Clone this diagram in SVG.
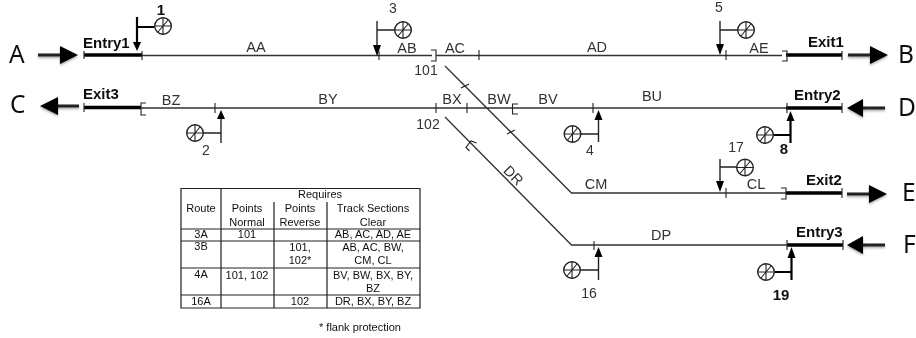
<svg xmlns="http://www.w3.org/2000/svg" width="916" height="338" viewBox="0 0 916 338">
<style>
svg > g{filter:url(#blurall)}
text{font-family:"Liberation Sans",Arial,sans-serif;fill:#333}
.lbl{font-size:14.500px;text-anchor:middle}
.num{font-size:14px;text-anchor:middle}
.bn{font-size:15px;font-weight:bold;text-anchor:middle;fill:#111}
.en{font-size:15px;font-weight:bold;fill:#111}
.big{font-family:"Noto Sans",sans-serif;font-size:24.500px;fill:#111}
.t{font-size:11px;text-anchor:middle;fill:#111}
.trk{stroke:#333;stroke-width:1.3;fill:none}
.thick{stroke:#000;stroke-width:3.4;fill:none}
.tick{stroke:#222;stroke-width:1.1;fill:none}
.sig{stroke:#222;stroke-width:1.4;fill:none}
.sigb{stroke:#000;stroke-width:2.2;fill:none}
.grid{stroke:#222;stroke-width:1.2;fill:none}
.ar{stroke:#222;stroke-width:3;fill:none}
</style>
<defs>
<g id="lamp"><circle r="8.3" fill="#fff" stroke="#222" stroke-width="1.4"/><path d="M-8.3 0H8.3M0-8.3V8.3M-5 6L5-6" fill="none" stroke="#222" stroke-width="1.1"/></g>
<filter id="blurall" filterUnits="userSpaceOnUse" x="0" y="0" width="916" height="338"><feGaussianBlur stdDeviation="0.4"/></filter>
<filter id="soft" x="-20%" y="-60%" width="140%" height="220%"><feDropShadow dx="0" dy="1.5" stdDeviation="1.2" flood-color="#000" flood-opacity="0.35"/></filter>
</defs>

<g id="connectors">
<path class="trk" d="M142 55.500H432M436 55.500H782M141 108H786M445 66L571.500 193H786M445 117L571.500 245H787"/>
<path class="thick" d="M84 55H142M84 107.500H141M786 55H842M786 108H842M786 193H842M787 245H843"/>
<path class="tick" d="M84 51V59M142 51V60M379 51V60M479 50V60M726 50V60M842 51V60M84 103V112M215 103V113M436 103V113M467 103V113M593 103V113M787 103V113M842 103V113M726 188V198M842 188V198M594 241V250M787 240V250M843 240V250M461 88L469 84M507 134L515 130"/>
<path class="tick" d="M431 50H436V61H431M146 103H141V115H146M518 104H512.500V114H518M782 51H787V61H782M781 188H786V199H781M476.500 143L471 141L466 147.500L469.500 151"/>
<path class="ar" d="M38 55H62M848 55H872M79 106H55M885 108H861M847 194H871M885 245H861" filter="url(#soft)"/>
<path d="M60 46L78 55L60 64ZM870 46L888 55L870 64ZM58 97L40 106L58 115ZM863 99L847 108L863 117ZM869 185L887 194L869 203ZM863 236L847 245L863 254Z" fill="#000" filter="url(#soft)"/>
</g>

<g id="entry-exit-labels">
<text class="en" x="83" y="48">Entry1</text>
<text class="en" x="83" y="99">Exit3</text>
<text class="en" x="808" y="47">Exit1</text>
<text class="en" x="794" y="100">Entry2</text>
<text class="en" x="806" y="185">Exit2</text>
<text class="en" x="796" y="237">Entry3</text>
</g>
<g id="letters">
<text class="big" x="9" y="63">A</text>
<text class="big" x="10" y="113">C</text>
<text class="big" x="898" y="63">B</text>
<text class="big" x="898" y="116">D</text>
<text class="big" x="902" y="201">E</text>
<text class="big" x="903" y="253">F</text>
</g>
<g id="section-labels">
<text class="lbl" x="256" y="52">AA</text>
<text class="lbl" x="407" y="53">AB</text>
<text class="lbl" x="455" y="53">AC</text>
<text class="lbl" x="597" y="52">AD</text>
<text class="lbl" x="759" y="53">AE</text>
<text class="lbl" x="171" y="105">BZ</text>
<text class="lbl" x="328" y="104">BY</text>
<text class="lbl" x="452" y="104">BX</text>
<text class="lbl" x="499" y="104">BW</text>
<text class="lbl" x="548" y="104">BV</text>
<text class="lbl" x="652" y="101">BU</text>
<text class="lbl" x="596" y="189">CM</text>
<text class="lbl" x="756" y="189">CL</text>
<text class="lbl" x="661" y="240">DP</text>
<text class="lbl" transform="translate(510 179) rotate(45)">DR</text>
<text class="num" x="426" y="75">101</text>
<text class="num" x="428" y="129">102</text>
</g>

<g id="signal-1"><path class="sigb" d="M137 17V46M137 27H154"/><path d="M133 42H141L137 51Z" fill="#000"/><use href="#lamp" x="163" y="26"/><text class="bn" x="161" y="15">1</text></g>
<g id="signal-2"><path class="sig" d="M221 143V118M221 133H204"/><path d="M217 119H225L221 110Z" fill="#000"/><use href="#lamp" x="195" y="133"/><text class="num" x="206" y="155">2</text></g>
<g id="signal-3"><path class="sig" d="M377 21V48M377 30H394"/><path d="M373 45H381L377 56Z" fill="#000"/><use href="#lamp" x="403" y="30"/><text class="num" x="393" y="13">3</text></g>
<g id="signal-5"><path class="sig" d="M720 21V46M720 30H737"/><path d="M716 44H724L720 55Z" fill="#000"/><use href="#lamp" x="746" y="30"/><text class="num" x="719" y="12">5</text></g>
<g id="signal-4"><path class="sig" d="M598.500 142V118M598.500 134H581"/><path d="M594.500 120H602.500L598.500 110Z" fill="#000"/><use href="#lamp" x="572.500" y="134"/><text class="num" x="590" y="155">4</text></g>
<g id="signal-8"><path class="sigb" d="M790.500 143V118M790.500 135H774"/><path d="M786.500 121H794.500L790.500 111Z" fill="#000"/><use href="#lamp" x="765" y="135"/><text class="bn" x="784" y="154">8</text></g>
<g id="signal-17"><path class="sig" d="M720 159V183M720 167H737"/><path d="M716 181H724L720 192Z" fill="#000"/><use href="#lamp" x="745" y="167.500"/><text class="num" x="736" y="152">17</text></g>
<g id="signal-16"><path class="sig" d="M598.500 280V255M598.500 270H581"/><path d="M594.500 257H602.500L598.500 247Z" fill="#000"/><use href="#lamp" x="572" y="270"/><text class="num" x="589" y="298">16</text></g>
<g id="signal-19"><path class="sigb" d="M791.500 280V255M791.500 272H775"/><path d="M787.500 258H795.500L791.500 247Z" fill="#000"/><use href="#lamp" x="766" y="272"/><text class="bn" x="781" y="300">19</text></g>

<g id="table">
<path class="grid" d="M181 188.500H420V308H181ZM221 188.500V308M274 202V308M327 202V308M181 229H420M181 241H420M181 268H420M181 295H420"/>
<text class="t" x="320" y="198">Requires</text>
<text class="t" x="201" y="212">Route</text>
<text class="t" x="247" y="212">Points</text>
<text class="t" x="300" y="212">Points</text>
<text class="t" x="373" y="212">Track Sections</text>
<text class="t" x="247" y="226">Normal</text>
<text class="t" x="300" y="226">Reverse</text>
<text class="t" x="373" y="226">Clear</text>
<text class="t" x="201" y="238">3A</text>
<text class="t" x="247" y="238">101</text>
<text class="t" x="373" y="238">AB, AC, AD, AE</text>
<text class="t" x="201" y="250">3B</text>
<text class="t" x="300" y="251">101,</text>
<text class="t" x="373" y="251">AB, AC, BW,</text>
<text class="t" x="300" y="264">102*</text>
<text class="t" x="373" y="264">CM, CL</text>
<text class="t" x="201" y="278">4A</text>
<text class="t" x="247" y="279">101, 102</text>
<text class="t" x="373" y="279">BV, BW, BX, BY,</text>
<text class="t" x="373" y="292">BZ</text>
<text class="t" x="201" y="305">16A</text>
<text class="t" x="300" y="305">102</text>
<text class="t" x="373" y="305">DR, BX, BY, BZ</text>
<text class="t" x="360" y="331">* flank protection</text>
</g>
</svg>
